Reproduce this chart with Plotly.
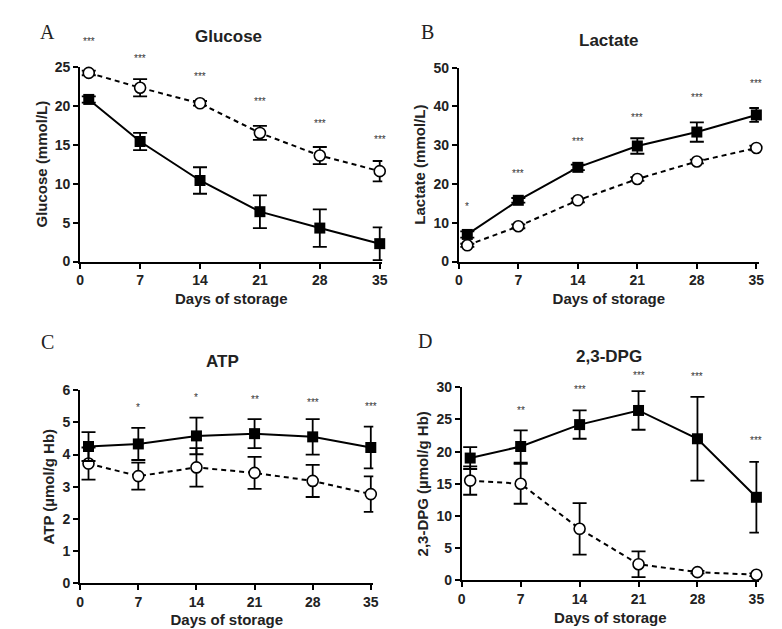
import plotly.graph_objects as go

days = [1, 7, 14, 21, 28, 35]
x_ticks = [0, 7, 14, 21, 28, 35]

# Glucose (mmol/L)
glu_closed = [20.8, 15.4, 10.4, 6.4, 4.3, 2.3]
glu_closed_err = [0.4, 1.1, 1.7, 2.1, 2.4, 2.1]
glu_open = [24.2, 22.3, 20.3, 16.5, 13.6, 11.6]
glu_open_err = [0.3, 1.1, 0.3, 0.9, 1.1, 1.3]
glu_stars = ["***", "***", "***", "***", "***", "***"]
glu_star_y = [28.2, 26.0, 23.7, 20.5, 17.7, 15.7]

# Lactate (mmol/L)
lac_closed = [7.0, 15.8, 24.3, 29.8, 33.4, 37.8]
lac_closed_err = [0.8, 0.6, 0.7, 2.0, 2.5, 1.8]
lac_open = [4.2, 9.1, 15.8, 21.3, 25.8, 29.3]
lac_open_err = [0.4, 0.5, 0.5, 0.5, 0.5, 0.6]
lac_stars = ["*", "***", "***", "***", "***", "***"]
lac_star_y = [14.3, 22.6, 30.9, 37.2, 42.2, 46.0]

# ATP (umol/g Hb)
atp_closed = [4.25, 4.33, 4.58, 4.65, 4.55, 4.22]
atp_closed_err = [0.45, 0.5, 0.57, 0.45, 0.55, 0.65]
atp_open = [3.72, 3.33, 3.6, 3.43, 3.18, 2.77]
atp_open_err = [0.5, 0.42, 0.6, 0.5, 0.5, 0.55]
atp_stars = ["", "*", "*", "**", "***", "***"]
atp_star_y = [5.5, 5.47, 5.77, 5.72, 5.62, 5.5]

# 2,3-DPG (umol/g Hb)
dpg_closed = [19.0, 20.8, 24.2, 26.4, 22.0, 12.9]
dpg_closed_err = [1.7, 2.5, 2.2, 3.0, 6.5, 5.5]
dpg_open = [15.5, 15.0, 8.0, 2.5, 1.26, 0.86]
dpg_open_err = [2.2, 3.1, 4.0, 2.0, 0.2, 0.2]
dpg_stars = ["", "**", "***", "***", "***", "***"]
dpg_star_y = [20.0, 26.4, 29.7, 31.9, 31.7, 21.7]

W, H = 782, 629

panels = [
    dict(name="Glucose", letter="A", ytitle="Glucose (mmol/L)",
         closed=glu_closed, cerr=glu_closed_err, open=glu_open, oerr=glu_open_err,
         stars=glu_stars, stary=glu_star_y, yrange=[0, 25], ydtick=5,
         xpx=(69, 374.6), ypx=(52, 252), title_xy=(219, 21), letter_xy=(36, 16)),
    dict(name="Lactate", letter="B", ytitle="Lactate (mmol/L)",
         closed=lac_closed, cerr=lac_closed_err, open=lac_open, oerr=lac_open_err,
         stars=lac_stars, stary=lac_star_y, yrange=[0, 50], ydtick=10,
         xpx=(452, 755.6), ypx=(53, 252), title_xy=(604, 25), letter_xy=(420, 16)),
    dict(name="ATP", letter="C", ytitle="ATP (µmol/g Hb)",
         closed=atp_closed, cerr=atp_closed_err, open=atp_open, oerr=atp_open_err,
         stars=atp_stars, stary=atp_star_y, yrange=[0, 6], ydtick=1,
         xpx=(69, 365.5), ypx=(384, 582), title_xy=(213, 355), letter_xy=(36, 335)),
    dict(name="2,3-DPG", letter="D", ytitle="2,3-DPG (µmol/g Hb)",
         closed=dpg_closed, cerr=dpg_closed_err, open=dpg_open, oerr=dpg_open_err,
         stars=dpg_stars, stary=dpg_star_y, yrange=[0, 30], ydtick=5,
         xpx=(455, 755.6), ypx=(381, 579), title_xy=(604, 349), letter_xy=(418, 333)),
]

fig = go.Figure()
annotations = []
FONT = "Liberation Sans"

for i, p in enumerate(panels, start=1):
    xa = "x" if i == 1 else f"x{i}"
    ya = "y" if i == 1 else f"y{i}"
    # open circles (dashed)
    fig.add_trace(go.Scatter(
        x=days, y=p["open"], xaxis=xa, yaxis=ya, mode="lines+markers",
        line=dict(color="black", width=2, dash="5px,4px"),
        marker=dict(symbol="circle", size=11, color="white",
                    line=dict(color="black", width=1.6)),
        error_y=dict(type="data", array=p["oerr"], color="black",
                     thickness=1.8, width=7),
        cliponaxis=False, showlegend=False))
    # closed squares (solid)
    fig.add_trace(go.Scatter(
        x=days, y=p["closed"], xaxis=xa, yaxis=ya, mode="lines+markers",
        line=dict(color="black", width=2),
        marker=dict(symbol="square", size=11, color="black"),
        error_y=dict(type="data", array=p["cerr"], color="black",
                     thickness=1.8, width=7),
        cliponaxis=False, showlegend=False))
    # significance stars: x in data units, y as a fraction of the y-axis range
    r0, r1 = p["yrange"]
    for d, s, sy in zip(days, p["stars"], p["stary"]):
        if s:
            annotations.append(dict(text=s, x=d, y=(sy - r0) / (r1 - r0),
                                    xref=xa, yref=f"{ya} domain",
                                    showarrow=False, xanchor="center", yanchor="middle",
                                    font=dict(family=FONT, size=10, color="#333")))

    x0, x1 = p["xpx"]
    yt, yb = p["ypx"]
    axis_common = dict(showline=True, linewidth=2, linecolor="black",
                       ticks="outside", ticklen=5, tickwidth=2, tickcolor="black",
                       showgrid=False, zeroline=False,
                       tickfont=dict(family=FONT, size=14, color="#222", weight="bold"))
    fig.layout[f"xaxis{'' if i == 1 else i}"] = dict(
        domain=[x0 / W, x1 / W], anchor=ya, range=[0, 35.3],
        tickvals=x_ticks, ticktext=[str(t) for t in x_ticks],
        title=dict(text="Days of storage", standoff=6,
                   font=dict(family=FONT, size=15, color="#222", weight="bold")),
        **axis_common)
    fig.layout[f"yaxis{'' if i == 1 else i}"] = dict(
        domain=[1 - yb / H, 1 - yt / H], anchor=xa, range=p["yrange"],
        dtick=p["ydtick"], tick0=0,
        title=dict(text=p["ytitle"], standoff=4,
                   font=dict(family=FONT, size=15, color="#222", weight="bold")),
        **axis_common)

    tx, ty = p["title_xy"]
    annotations.append(dict(text=p["name"], x=tx / W, y=1 - ty / H, xref="paper",
                            yref="paper", showarrow=False, xanchor="center",
                            yanchor="middle",
                            font=dict(family=FONT, size=17, color="#222", weight="bold")))
    lx, ly = p["letter_xy"]
    annotations.append(dict(text=p["letter"], x=lx / W, y=1 - ly / H, xref="paper",
                            yref="paper", showarrow=False, xanchor="center",
                            yanchor="middle",
                            font=dict(family="Liberation Serif", size=20, color="#222")))

fig.update_layout(width=W, height=H, margin=dict(l=0, r=0, t=0, b=0),
                  plot_bgcolor="white", paper_bgcolor="white",
                  annotations=annotations)

fig.write_html("out.html")
